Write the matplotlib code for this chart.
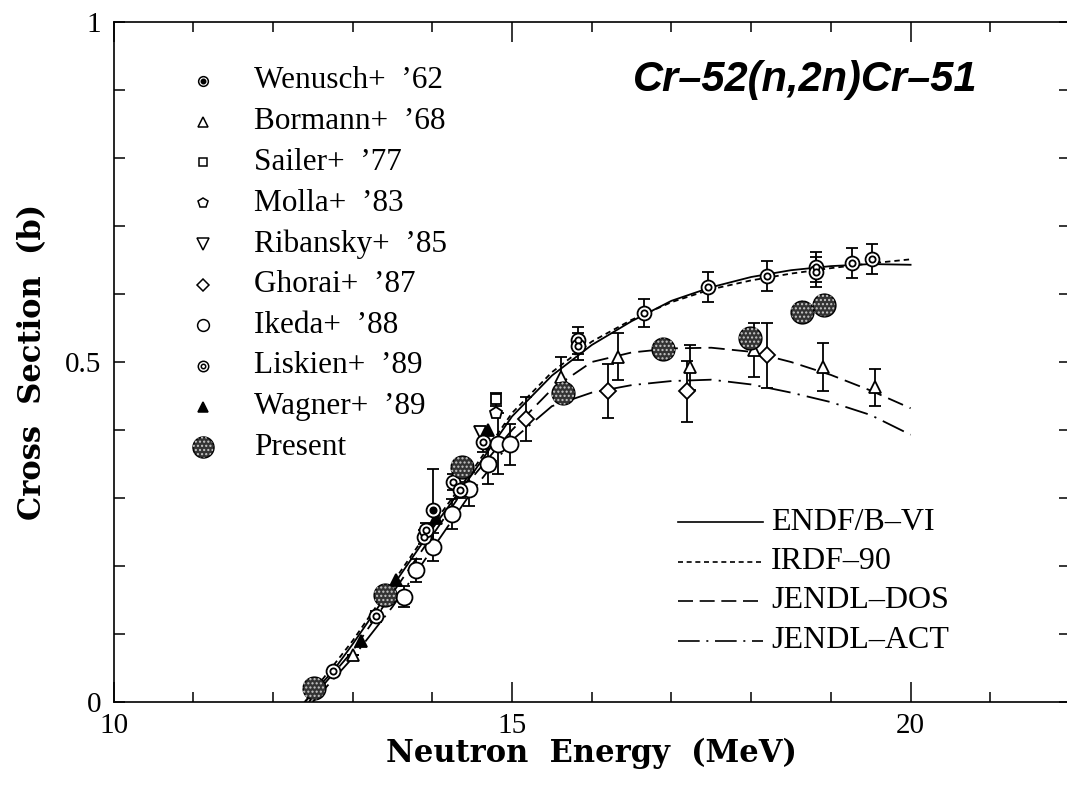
import numpy as np
import matplotlib
matplotlib.use('Agg')
import matplotlib.pyplot as plt

plt.rcParams['font.family'] = ['Liberation Serif', 'DejaVu Serif']
plt.rcParams['hatch.linewidth'] = 1.0

# evaluated curves
endf_e = [12.4, 12.75, 13.0, 13.5, 14.0, 14.5, 15.0, 15.5, 16.0, 16.5, 17.0, 17.5, 18.0, 18.5, 19.0, 19.5, 20.0]
endf_xs = [0.0, 0.045, 0.085, 0.17, 0.255, 0.335, 0.42, 0.48, 0.525, 0.56, 0.59, 0.61, 0.625, 0.635, 0.641, 0.644, 0.643]
irdf_e = [12.4, 13.0, 13.5, 14.0, 14.5, 15.0, 15.5, 16.0, 16.5, 17.0, 17.5, 18.0, 18.5, 19.0, 19.5, 20.0]
irdf_xs = [0.0, 0.09, 0.175, 0.26, 0.34, 0.425, 0.485, 0.53, 0.562, 0.588, 0.607, 0.62, 0.63, 0.638, 0.645, 0.651]
dos_e = [12.45, 13.0, 13.5, 14.0, 14.5, 15.0, 15.5, 16.0, 16.5, 17.0, 17.5, 18.0, 18.5, 19.0, 19.5, 20.0]
dos_xs = [0.0, 0.075, 0.16, 0.245, 0.33, 0.40, 0.46, 0.50, 0.514, 0.52, 0.521, 0.515, 0.50, 0.481, 0.458, 0.432]
act_e = [12.5, 13.0, 13.5, 14.0, 14.5, 15.0, 15.5, 16.0, 16.5, 17.0, 17.5, 18.0, 18.5, 19.0, 19.5, 20.0]
act_xs = [0.0, 0.065, 0.14, 0.225, 0.31, 0.385, 0.435, 0.455, 0.466, 0.472, 0.474, 0.467, 0.455, 0.441, 0.422, 0.393]

# measurements
wen_e = [14.01]
wen_xs = [0.283]
wen_err = [0.06]
bor_e = [13.0, 15.62, 16.33, 17.23, 18.03, 18.90, 19.55]
bor_xs = [0.069, 0.478, 0.508, 0.492, 0.518, 0.493, 0.463]
bor_err = [0.0, 0.03, 0.035, 0.033, 0.04, 0.035, 0.027]
sai_e = [14.8]
sai_xs = [0.445]
sai_err = [0.01]
mol_e = [14.8]
mol_xs = [0.425]
rib_e = [14.6]
rib_xs = [0.397]
gho_e = [15.18, 16.21, 17.20, 18.20]
gho_xs = [0.416, 0.457, 0.457, 0.510]
gho_err = [0.032, 0.04, 0.045, 0.048]
ike_e = [13.64, 13.80, 14.01, 14.25, 14.46, 14.70, 14.82, 14.97]
ike_xs = [0.155, 0.194, 0.228, 0.276, 0.313, 0.350, 0.380, 0.379]
ike_err = [0.015, 0.017, 0.02, 0.022, 0.025, 0.03, 0.045, 0.03]
lis_e = [12.76, 13.29, 13.89, 13.92, 14.26, 14.35, 14.63, 15.83, 15.83, 16.66, 17.46, 18.20, 18.81, 18.81, 19.26, 19.51]
lis_xs = [0.045, 0.126, 0.243, 0.253, 0.324, 0.312, 0.383, 0.532, 0.523, 0.572, 0.610, 0.627, 0.640, 0.632, 0.645, 0.652]
lis_err = [0.005, 0.008, 0.01, 0.01, 0.012, 0.012, 0.015, 0.02, 0.02, 0.021, 0.022, 0.022, 0.022, 0.022, 0.022, 0.022]
wag_e = [13.1, 13.55, 14.05, 14.7]
wag_xs = [0.09, 0.179, 0.27, 0.40]
pre_e = [12.51, 13.41, 14.37, 15.64, 16.90, 17.99, 18.64, 18.91]
pre_xs = [0.02, 0.157, 0.346, 0.454, 0.519, 0.536, 0.574, 0.584]

legend_names = ["Wenusch+  \u201962", "Bormann+  \u201968", "Sailer+  \u201977", "Molla+  \u201983",
                "Ribansky+  \u201985", "Ghorai+  \u201987", "Ikeda+  \u201988", "Liskien+  \u201989",
                "Wagner+  \u201989", "Present"]
curve_names = ["ENDF/B\u2013VI", "IRDF\u201390", "JENDL\u2013DOS", "JENDL\u2013ACT"]

W, H = 1067, 785
X0, X1, Y0, Y1 = 113.5, 1070, 702, 22

fig = plt.figure(figsize=(10.67, 7.85), dpi=100)
ax = fig.add_axes([X0 / W, 1 - Y0 / H, (X1 - X0) / W, (Y0 - Y1) / H])


def ax_pos(px, py):
    return (px - X0) / (X1 - X0), (Y0 - py) / (Y0 - Y1)


styles = ['-', (0, (3, 2.2)), (0, (9, 4)), (0, (13, 4, 1.2, 4))]
for (e, s), ls in zip([(endf_e, endf_xs), (irdf_e, irdf_xs), (dos_e, dos_xs), (act_e, act_xs)], styles):
    ax.plot(e, s, color='k', lw=1.3, linestyle=ls, zorder=2)

eb = dict(fmt='none', ecolor='k', elinewidth=1.3, capsize=4, capthick=1.3, zorder=3)
ax.errorbar(wen_e, wen_xs, yerr=wen_err, **eb)
ax.errorbar(bor_e, bor_xs, yerr=bor_err, **eb)
ax.errorbar(sai_e, sai_xs, yerr=sai_err, **eb)
ax.errorbar(gho_e, gho_xs, yerr=gho_err, **eb)
ax.errorbar(ike_e, ike_xs, yerr=ike_err, **eb)
ax.errorbar(lis_e, lis_xs, yerr=lis_err, **eb)

mk = dict(ls='none', mec='k', mew=1.3, zorder=4)
ax.plot(ike_e, ike_xs, 'o', ms=11.5, mfc='white', **mk)
ax.plot(gho_e, gho_xs, 'D', ms=8, mfc='white', **mk)
ax.plot(bor_e, bor_xs, '^', ms=9, mfc='white', **mk)
ax.plot(sai_e, sai_xs, 's', ms=7, mfc='white', **mk)
ax.plot(mol_e, mol_xs, 'p', ms=9, mfc='white', **mk)
ax.plot(rib_e, rib_xs, 'v', ms=8, mfc='white', **mk)
ax.plot(wag_e, wag_xs, '^', ms=8, mfc='k', **mk)
ax.plot(lis_e, lis_xs, 'o', ms=10, mfc='white', **mk)
ax.plot(lis_e, lis_xs, 'o', ms=4.5, mfc='white', **mk)
ax.plot(wen_e, wen_xs, 'o', ms=10, mfc='white', **mk)
ax.plot(wen_e, wen_xs, 'o', ms=4.5, mfc='k', **mk)
ax.scatter(pre_e, pre_xs, s=270, c='#333333', edgecolors='k', linewidths=1.0, zorder=5)
ax.scatter(pre_e, pre_xs, s=270, facecolors='none', edgecolors='#c8c8c8', linewidths=0, hatch='....', zorder=5)

# symbol legend (upper left)
tr = ax.transAxes
row_y = [81 + 40.7 * i for i in range(10)]
lkw = dict(transform=tr, clip_on=False, ls='none', mec='k', mew=1.1)
sym = [('o', 7, 'white'), ('^', 6.5, 'white'), ('s', 6, 'white'), ('p', 7.5, 'white'), ('v', 8.5, 'white'),
       ('D', 6, 'white'), ('o', 8.5, 'white'), ('o', 7.5, 'white'), ('^', 7, 'k')]
for i, name in enumerate(legend_names):
    mx, my = ax_pos(203, row_y[i])
    if i < len(sym):
        m, ms, fc = sym[i]
        ax.plot([mx], [my], m, ms=ms, mfc=fc, **lkw)
        if i == 0:
            ax.plot([mx], [my], 'o', ms=3.2, mfc='k', **lkw)
        if i == 7:
            ax.plot([mx], [my], 'o', ms=3.2, mfc='white', **lkw)
    else:
        ax.scatter([mx], [my], s=230, c='#333333', edgecolors='k', linewidths=1.0, transform=tr, clip_on=False)
        ax.scatter([mx], [my], s=230, facecolors='none', edgecolors='#c8c8c8', linewidths=0, hatch='....',
                   transform=tr, clip_on=False)
    tx, ty = ax_pos(254, row_y[i])
    ax.text(tx, ty, name, transform=tr, fontsize=22.5, ha='left', va='center')

# curve legend (lower right)
for i, name in enumerate(curve_names):
    y = 522 + 39.5 * i
    lx0, ly = ax_pos(678, y)
    lx1, _ = ax_pos(763, y)
    ax.plot([lx0, lx1], [ly, ly], color='k', lw=1.2, linestyle=styles[i], transform=tr, clip_on=False)
    tx, _ = ax_pos(771, y)
    ax.text(tx, ly, name, transform=tr, fontsize=23, ha='left', va='center')

tx, ty = ax_pos(977, 80)
ax.text(tx, ty, 'Cr\u201352(n,2n)Cr\u201351', transform=tr, ha='right', va='center',
        fontsize=30, fontweight='bold', fontstyle='italic', family='Liberation Sans')

ax.set_xlim(10, 22)
ax.set_ylim(0, 1)
ax.set_xticks([10, 15, 20])
ax.set_xticks(np.arange(10, 23, 1), minor=True)
ax.set_yticks([0, 0.5, 1])
ax.set_yticklabels(['0', '0.5', '1'])
ax.set_yticks(np.arange(0, 1.01, 0.1), minor=True)
ax.tick_params(which='both', direction='in', top=True, right=True, width=1.1, labelsize=21)
ax.tick_params(axis='x', which='major', length=14.5, pad=8)
ax.tick_params(axis='x', which='minor', length=7.5)
ax.tick_params(axis='y', which='both', length=8, pad=9)
for sp in ax.spines.values():
    sp.set_linewidth(1.2)
ax.spines['right'].set_visible(False)

fig.text(591 / W, 1 - 753 / H, 'Neutron  Energy  (MeV)', ha='center', va='center',
         fontsize=22, fontweight='bold', family='DejaVu Serif')
fig.text(33 / W, 1 - 362 / H, 'Cross  Section  (b)', ha='center', va='center', rotation=90,
         fontsize=22, fontweight='bold', family='DejaVu Serif')

fig.savefig('out.png', dpi=100)
